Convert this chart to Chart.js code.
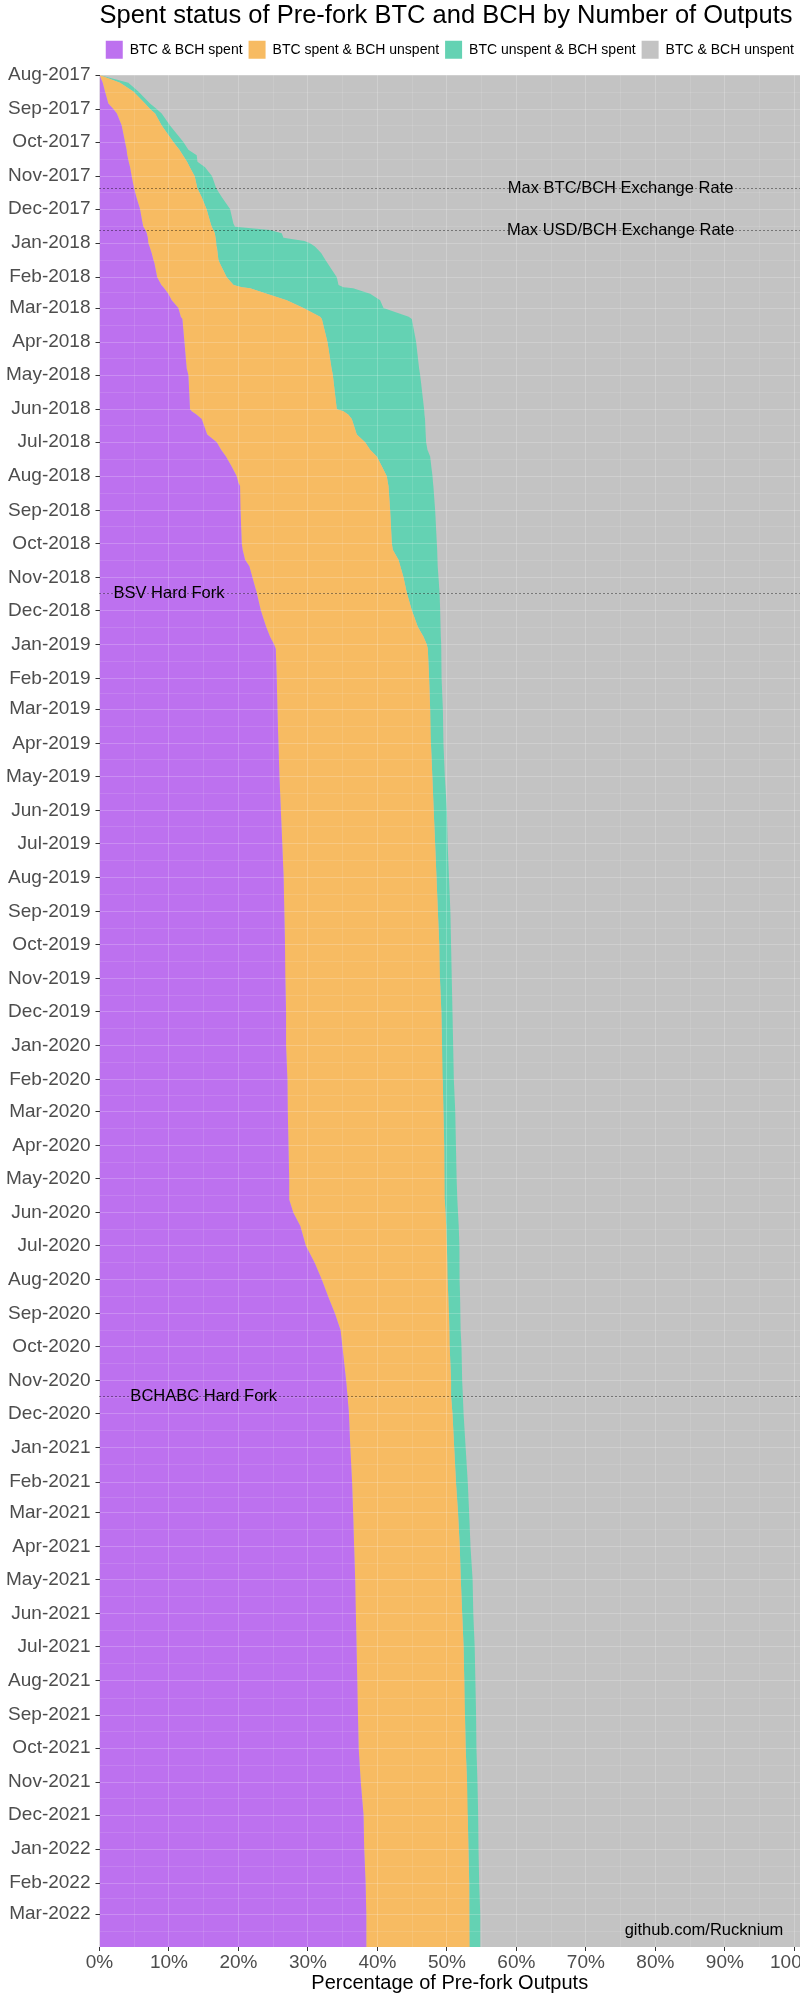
<!DOCTYPE html>
<html><head><meta charset="utf-8">
<script src="https://cdn.jsdelivr.net/npm/chart.js@4.4.1/dist/chart.umd.min.js"></script>
<style>html,body{margin:0;padding:0;background:#fff;overflow:hidden}canvas{display:block}</style>
</head><body>
<canvas id="c" width="800" height="2000" style="width:800px;height:2000px"></canvas>
<script>
// ---------------- data ----------------
const dates = [
 '2017-08-01','2017-08-08','2017-08-16','2017-08-27','2017-09-01','2017-09-05','2017-09-16','2017-10-01','2017-10-08','2017-10-13',
 '2017-10-19','2017-10-24','2017-11-01','2017-11-12','2017-11-20','2017-12-01','2017-12-14','2017-12-17','2017-12-20','2017-12-23',
 '2017-12-27','2017-12-30','2018-01-01','2018-01-04','2018-01-10','2018-01-16','2018-01-19','2018-02-01','2018-02-08','2018-02-10',
 '2018-02-11','2018-02-16','2018-02-22','2018-03-01','2018-03-09','2018-03-11','2018-04-01','2018-04-25','2018-05-01','2018-06-01',
 '2018-06-03','2018-06-06','2018-06-10','2018-06-24','2018-07-01','2018-07-08','2018-07-14','2018-07-23','2018-08-01','2018-08-07',
 '2018-08-10','2018-09-01','2018-10-01','2018-10-07','2018-10-16','2018-10-22','2018-11-01','2018-11-15','2018-12-01','2018-12-16',
 '2018-12-25','2019-01-01','2019-01-05','2019-02-01','2019-03-01','2019-04-01','2019-05-01','2019-06-01','2019-07-01','2019-08-01',
 '2019-09-01','2019-10-01','2019-11-01','2019-12-01','2020-01-01','2020-02-01','2020-03-01','2020-04-01','2020-05-01','2020-05-20',
 '2020-06-01','2020-06-13','2020-07-01','2020-07-17','2020-08-01','2020-08-17','2020-09-01','2020-09-16','2020-10-01','2020-11-01',
 '2020-11-15','2020-12-01','2021-01-01','2021-02-01','2021-03-01','2021-04-01','2021-05-01','2021-06-01','2021-07-01','2021-08-01',
 '2021-09-01','2021-10-01','2021-11-01','2021-12-01','2022-01-01','2022-02-01','2022-03-01','2022-03-31'
];
// percentage of pre-fork outputs in each category
const btcBchSpent = [
 0,0.46,0.79,1.27,1.99,2.50,3.19,3.67,3.90,4.00,
 4.20,4.40,4.63,4.97,5.30,5.83,6.20,6.31,6.60,6.80,
 6.95,7.00,7.03,7.20,7.50,7.75,7.90,8.30,8.90,9.19,
 9.30,9.90,10.39,11.35,11.70,11.93,12.22,12.55,12.79,13.03,
 13.27,13.99,14.71,15.50,16.87,17.50,18.20,19.00,19.75,19.99,
 20.23,20.30,20.47,20.60,20.95,21.57,22.00,22.63,23.21,23.98,
 24.55,25.13,25.37,25.51,25.61,25.75,25.90,26.10,26.30,26.50,
 26.60,26.70,26.75,26.85,26.85,27.05,27.10,27.20,27.30,27.30,
 27.90,28.90,29.70,31.00,32.00,32.95,33.90,34.70,34.96,35.50,
 35.70,35.90,36.10,36.35,36.50,36.65,36.80,36.90,37.00,37.10,
 37.20,37.30,37.60,38.00,38.10,38.30,38.40,38.40
];
const btcSpentBchUnspent = [
 0,2.49,4.08,5.28,5.28,5.50,5.76,6.96,7.60,8.00,
 8.40,8.60,9.07,9.11,9.40,9.57,9.80,9.84,9.79,9.80,
 9.75,9.77,9.77,9.70,9.50,9.36,9.40,10.01,10.40,11.31,
 12.37,14.17,16.56,18.00,20.05,20.07,20.59,20.85,20.79,21.12,
 21.84,21.84,21.60,21.53,21.36,21.45,21.71,21.63,21.60,21.51,
 21.36,21.53,21.60,21.61,22.08,21.73,21.75,21.60,21.74,21.83,
 22.08,21.98,21.88,21.93,21.98,21.95,22.00,22.00,22.00,22.00,
 22.10,22.20,22.25,22.35,22.45,22.35,22.40,22.40,22.35,22.40,
 21.90,21.00,20.30,19.05,18.10,17.25,16.40,15.65,15.44,15.10,
 14.90,14.90,14.95,14.95,15.10,15.20,15.20,15.30,15.40,15.40,
 15.40,15.40,15.30,15.00,15.00,14.90,14.85,14.85
];
const btcUnspentBchSpent = [
 0,1.20,0.72,0.72,0.96,0.95,1.20,1.44,1.29,1.99,
 1.50,2.19,2.50,2.72,2.89,3.39,3.27,3.35,8.16,9.63,
 9.77,12.73,13.50,14.10,14.90,15.39,15.50,15.84,15.10,14.61,
 14.83,14.88,13.44,11.52,12.75,12.95,12.76,12.60,12.57,12.57,
 11.64,10.97,10.54,9.92,8.78,8.25,7.68,7.12,6.58,6.50,
 6.46,6.48,6.48,6.39,5.62,5.40,5.04,4.71,4.08,3.29,
 2.52,2.07,1.95,1.83,1.83,1.80,1.80,1.90,1.80,1.80,
 1.80,1.70,1.70,1.60,1.60,1.60,1.70,1.70,1.75,1.80,
 1.80,1.80,1.80,1.75,1.75,1.70,1.65,1.65,1.70,1.60,
 1.70,1.60,1.65,1.70,1.60,1.55,1.70,1.60,1.60,1.60,
 1.60,1.55,1.50,1.50,1.45,1.45,1.55,1.55
];
const btcBchUnspent = [
 100,95.85,94.41,92.73,91.77,91.05,89.85,87.93,87.21,86.01,
 85.90,84.81,83.80,83.20,82.41,81.21,80.73,80.50,75.45,73.77,
 73.53,70.50,69.70,69.00,68.10,67.50,67.20,65.85,65.60,64.89,
 63.50,61.05,59.61,59.13,55.50,55.05,54.43,54.00,53.85,53.28,
 53.25,53.20,53.15,53.05,52.99,52.80,52.41,52.25,52.07,52.00,
 51.95,51.69,51.45,51.40,51.35,51.30,51.21,51.06,50.97,50.90,
 50.85,50.82,50.80,50.73,50.58,50.50,50.30,50.00,49.90,49.70,
 49.50,49.40,49.30,49.20,49.10,49.00,48.80,48.70,48.60,48.50,
 48.40,48.30,48.20,48.20,48.15,48.10,48.05,48.00,47.90,47.80,
 47.70,47.60,47.30,47.00,46.80,46.60,46.30,46.20,46.00,45.90,
 45.80,45.75,45.60,45.50,45.45,45.35,45.20,45.20
];
const seriesNames = ['BTC & BCH spent','BTC spent & BCH unspent','BTC unspent & BCH spent','BTC & BCH unspent'];
const monthLabels = [
 'Aug-2017','Sep-2017','Oct-2017','Nov-2017','Dec-2017',
 'Jan-2018','Feb-2018','Mar-2018','Apr-2018','May-2018','Jun-2018','Jul-2018','Aug-2018','Sep-2018','Oct-2018','Nov-2018','Dec-2018',
 'Jan-2019','Feb-2019','Mar-2019','Apr-2019','May-2019','Jun-2019','Jul-2019','Aug-2019','Sep-2019','Oct-2019','Nov-2019','Dec-2019',
 'Jan-2020','Feb-2020','Mar-2020','Apr-2020','May-2020','Jun-2020','Jul-2020','Aug-2020','Sep-2020','Oct-2020','Nov-2020','Dec-2020',
 'Jan-2021','Feb-2021','Mar-2021','Apr-2021','May-2021','Jun-2021','Jul-2021','Aug-2021','Sep-2021','Oct-2021','Nov-2021','Dec-2021',
 'Jan-2022','Feb-2022','Mar-2022'
];
const xTickValues = [0,10,20,30,40,50,60,70,80,90,100];
const xMinorValues = [5,15,25,35,45,55,65,75,85,95];
const startDate = '2017-08-01';
const endDate = '2022-03-31';
const refLineDates = ['2017-11-12','2017-12-20','2018-11-15','2020-11-15'];
const refLineLabels = ['Max BTC/BCH Exchange Rate','Max USD/BCH Exchange Rate','BSV Hard Fork','BCHABC Hard Fork'];
const refLabelPct = [75,75,10,15];
const creditText = 'github.com/Rucknium';
const creditPct = 87;
const creditDate = '2022-03-16';

// ---------------- helpers ----------------
const MON = ['Jan','Feb','Mar','Apr','May','Jun','Jul','Aug','Sep','Oct','Nov','Dec'];
const t0 = (()=>{const [y,m,d]=startDate.split('-').map(Number);return Date.UTC(y,m-1,d);})();
function dayOf(s){const [y,m,d]=s.split('-').map(Number);return (Date.UTC(y,m-1,d)-t0)/864e5;}
function monthDay(lbl){const [mo,yr]=lbl.split('-');return (Date.UTC(+yr,MON.indexOf(mo),1)-t0)/864e5;}
const yMax = dayOf(endDate);
const yMajor = monthLabels.map(monthDay);
const lastLbl = monthLabels[monthLabels.length-1].split('-');
const nextMonth = (Date.UTC(+lastLbl[1], MON.indexOf(lastLbl[0])+1, 1)-t0)/864e5;
const yAll = yMajor.concat([nextMonth]);
const yMinor = [];
for (let i=0;i<yAll.length-1;i++){const m=(yAll[i]+yAll[i+1])/2; if(m<=yMax) yMinor.push(m);}
const yTicks = yMajor.concat(yMinor).sort((a,b)=>a-b);
const yLabelMap = new Map(yMajor.map((v,i)=>[v,monthLabels[i]]));
const xTicks = xTickValues.concat(xMinorValues).sort((a,b)=>a-b);
const xMajorSet = new Set(xTickValues);

const F = "'Liberation Sans', Arial, Helvetica, sans-serif";
const colors = ['#BD71EF','#F7BB62','#64D2B3','#C3C3C3'];
const seriesData = [btcBchSpent, btcSpentBchUnspent, btcUnspentBchSpent, btcBchUnspent];
const datasets = seriesData.map((arr,k)=>({
  label: seriesNames[k],
  data: arr.map((v,i)=>({x:v, y:dayOf(dates[i])})),
  backgroundColor: colors[k], borderColor: colors[k], borderWidth: 0,
  pointRadius: 0, pointHoverRadius: 0, tension: 0,
  fill: k===0 ? 'origin' : '-1'
}));

const bgPlugin = {
  id:'panelBg',
  beforeDraw(chart){const {ctx,chartArea:a}=chart;ctx.save();ctx.fillStyle='#C3C3C3';ctx.fillRect(a.left,a.top,a.right-a.left,a.bottom-a.top);ctx.restore();}
};
const annPlugin = {
  id:'refLines',
  afterDraw(chart){
    const {ctx,chartArea:a,scales:{x,y}}=chart;
    ctx.save();
    refLineDates.forEach((d,i)=>{
      const py = Math.round(y.getPixelForValue(dayOf(d)))+0.5;
      ctx.strokeStyle='rgba(0,0,0,0.8)';ctx.lineWidth=1;ctx.setLineDash([1,3]);
      ctx.beginPath();ctx.moveTo(a.left,py);ctx.lineTo(a.right,py);ctx.stroke();
      ctx.setLineDash([]);
      ctx.fillStyle='#000';ctx.font='16.5px '+F;ctx.textAlign='center';ctx.textBaseline='middle';
      ctx.fillText(refLineLabels[i], x.getPixelForValue(refLabelPct[i]), py);
    });
    ctx.fillStyle='#000';ctx.font='16.5px '+F;ctx.textAlign='center';ctx.textBaseline='middle';
    ctx.fillText(creditText, x.getPixelForValue(creditPct), y.getPixelForValue(dayOf(creditDate)));
    ctx.restore();
  }
};

const yIsMajor = v => yLabelMap.has(v);
new Chart(document.getElementById('c'), {
  type:'line',
  data:{datasets},
  options:{
    indexAxis:'y', responsive:false, animation:false, events:[],
    layout:{padding:0},
    plugins:{
      title:{display:true,text:'Spent status of Pre-fork BTC and BCH by Number of Outputs',align:'start',fullSize:false,color:'#000',
             font:{family:F,size:25.5,weight:'normal',lineHeight:1},padding:{top:3,bottom:6.3}},
      legend:{display:true,position:'top',align:'end',
              labels:{boxWidth:17,boxHeight:18,padding:6,color:'#000',font:{family:F,size:14}}},
      subtitle:{display:true,text:'',weight:500,font:{size:6.2,lineHeight:1},padding:0},
      tooltip:{enabled:false},
      filler:{propagate:false}
    },
    scales:{
      x:{type:'linear',position:'bottom',stacked:true,min:0,max:100.82,
         afterBuildTicks(s){s.ticks=xTicks.map(v=>({value:v}));},
         afterFit(s){s.height=53;s.paddingLeft=0;s.paddingRight=0;},
         ticks:{autoSkip:false,maxRotation:0,padding:0,color:'#4D4D4D',font:{family:F,size:19},
                callback:v=>xMajorSet.has(v)?v+'%':''},
         grid:{z:1,lineWidth:1,tickLength:4,tickWidth:1,
               color:c=>xMajorSet.has(c.tick.value)?'rgba(255,255,255,0.2)':'rgba(255,255,255,0.11)',
               tickColor:c=>xMajorSet.has(c.tick.value)?'#333333':'rgba(0,0,0,0)'},
         border:{display:false},
         title:{display:true,text:'Percentage of Pre-fork Outputs',color:'#000',font:{family:F,size:20},padding:{top:0,bottom:4.5}}
      },
      y:{type:'linear',reverse:true,min:0,max:yMax,
         afterBuildTicks(s){s.ticks=yTicks.map(v=>({value:v}));},
         afterFit(s){s.width=99.5;},
         ticks:{autoSkip:false,padding:5,color:'#4D4D4D',font:{family:F,size:19},
                callback:v=>yLabelMap.get(v)||''},
         grid:{z:1,lineWidth:1,tickLength:4,tickWidth:1,
               color:c=>yIsMajor(c.tick.value)?'rgba(255,255,255,0.2)':'rgba(255,255,255,0.11)',
               tickColor:c=>yIsMajor(c.tick.value)?'#333333':'rgba(0,0,0,0)'},
         border:{display:false}
      }
    }
  },
  plugins:[bgPlugin,annPlugin]
});
</script>
</body></html>
